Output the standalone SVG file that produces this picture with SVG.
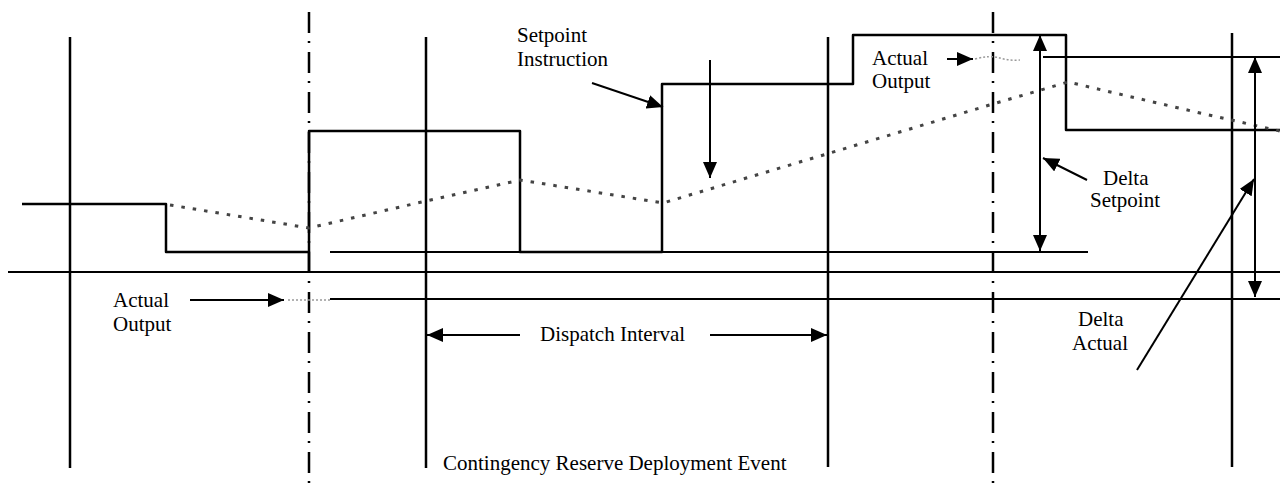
<svg xmlns="http://www.w3.org/2000/svg" width="1280" height="489" viewBox="0 0 1280 489">
  <style>
    .grid { stroke: #000; stroke-width: 2.5; fill: none; }
    .event { stroke: #000; stroke-width: 2.5; fill: none; stroke-dasharray: 21 8 2 9; }
    .line { stroke: #000; stroke-width: 2; fill: none; stroke-linejoin: round; }
    .step { stroke: #000; stroke-width: 2.5; fill: none; stroke-linejoin: round; }
    .actual { stroke: #444; stroke-width: 3; fill: none; stroke-dasharray: 3.5 8; }
    .faint { stroke: #999; stroke-width: 1.5; fill: none; stroke-dasharray: 2 2; }
    .arrow { stroke: #000; stroke-width: 2; fill: none; }
    .label { font-family: "Liberation Serif", "Times New Roman", serif; font-size: 21px; fill: #000; }
  </style>
  <defs>
    <marker id="head" viewBox="0 0 16 14" refX="16" refY="7" markerWidth="16" markerHeight="14" markerUnits="userSpaceOnUse" orient="auto-start-reverse">
      <path d="M0,0 L16,7 L0,14 Z" fill="#000"/>
    </marker>
  </defs>
  <rect width="1280" height="489" fill="#fff"/>

  <!-- time grid: dispatch interval boundaries -->
  <g id="grid">
    <line class="grid" x1="70" y1="37" x2="70" y2="468"/>
    <line class="grid" x1="426" y1="37" x2="426" y2="468"/>
    <line class="grid" x1="828" y1="37" x2="828" y2="467"/>
    <line class="grid" x1="1232" y1="33" x2="1232" y2="467"/>
  </g>

  <!-- event markers (dash-dot) -->
  <g id="event-lines">
    <line class="event" x1="309" y1="12" x2="309" y2="489"/>
    <line class="event" x1="993" y1="12" x2="993" y2="489"/>
  </g>

  <!-- horizontal reference levels -->
  <g id="levels">
    <line class="line" x1="8" y1="272" x2="1280" y2="272"/>
    <line class="line" x1="330" y1="299" x2="1280" y2="299"/>
    <line class="line" x1="330" y1="252" x2="1088" y2="252"/>
    <line class="line" x1="1043" y1="57" x2="1280" y2="57"/>
  </g>

  <!-- setpoint instruction steps -->
  <g id="setpoint">
    <polyline class="step" points="22,204 166,204 166,252 309,252 309,272"/>
    <polyline class="step" points="309,252 309,131 520,131 520,252 662,252 662,84 853,84 853,35 1066,35 1066,130 1280,130"/>
  </g>

  <!-- actual output trace -->
  <g id="actual-output">
    <polyline class="actual" points="170,205 309,228 426,201 520,180 663,203 830,153 993,104 1068,82 1200,113 1280,131"/>
    <line class="faint" x1="288" y1="300" x2="330" y2="300"/>
    <path class="faint" d="M975,59 Q990,55 1000,58 T1020,60"/>
  </g>

  <!-- annotations -->
  <g id="connectors">
    <line class="arrow" x1="592" y1="83" x2="663" y2="107" marker-end="url(#head)"/>
    <line class="arrow" x1="710" y1="60" x2="710" y2="178" marker-end="url(#head)"/>
    <line class="arrow" x1="190" y1="300" x2="284" y2="300" marker-end="url(#head)"/>
    <line class="arrow" x1="947" y1="59" x2="973" y2="59" marker-end="url(#head)"/>
    <line class="arrow" x1="520" y1="335" x2="427" y2="335" marker-end="url(#head)"/>
    <line class="arrow" x1="710" y1="335" x2="827" y2="335" marker-end="url(#head)"/>
    <line class="arrow" x1="1040" y1="35" x2="1040" y2="251" marker-start="url(#head)" marker-end="url(#head)"/>
    <line class="arrow" x1="1087" y1="180" x2="1043" y2="158" marker-end="url(#head)"/>
    <line class="arrow" x1="1255" y1="57" x2="1255" y2="297" marker-start="url(#head)" marker-end="url(#head)"/>
    <line class="arrow" x1="1137" y1="370" x2="1254" y2="179" marker-end="url(#head)"/>
  </g>

  <g id="label-setpoint-instruction">
    <text class="label" x="517" y="42">Setpoint</text>
    <text class="label" x="517" y="66">Instruction</text>
  </g>
  <g id="label-actual-output-low">
    <text class="label" x="113" y="307">Actual</text>
    <text class="label" x="113" y="331">Output</text>
  </g>
  <g id="label-actual-output-high">
    <text class="label" x="872" y="65">Actual</text>
    <text class="label" x="872" y="88">Output</text>
  </g>
  <g id="label-delta-setpoint">
    <text class="label" x="1103" y="185">Delta</text>
    <text class="label" x="1090" y="207">Setpoint</text>
  </g>
  <g id="label-delta-actual">
    <text class="label" x="1078" y="326">Delta</text>
    <text class="label" x="1072" y="350">Actual</text>
  </g>
  <g id="label-dispatch-interval">
    <text class="label" x="540" y="341">Dispatch Interval</text>
  </g>
  <g id="label-event">
    <text class="label" x="443" y="470">Contingency Reserve Deployment Event</text>
  </g>
</svg>
